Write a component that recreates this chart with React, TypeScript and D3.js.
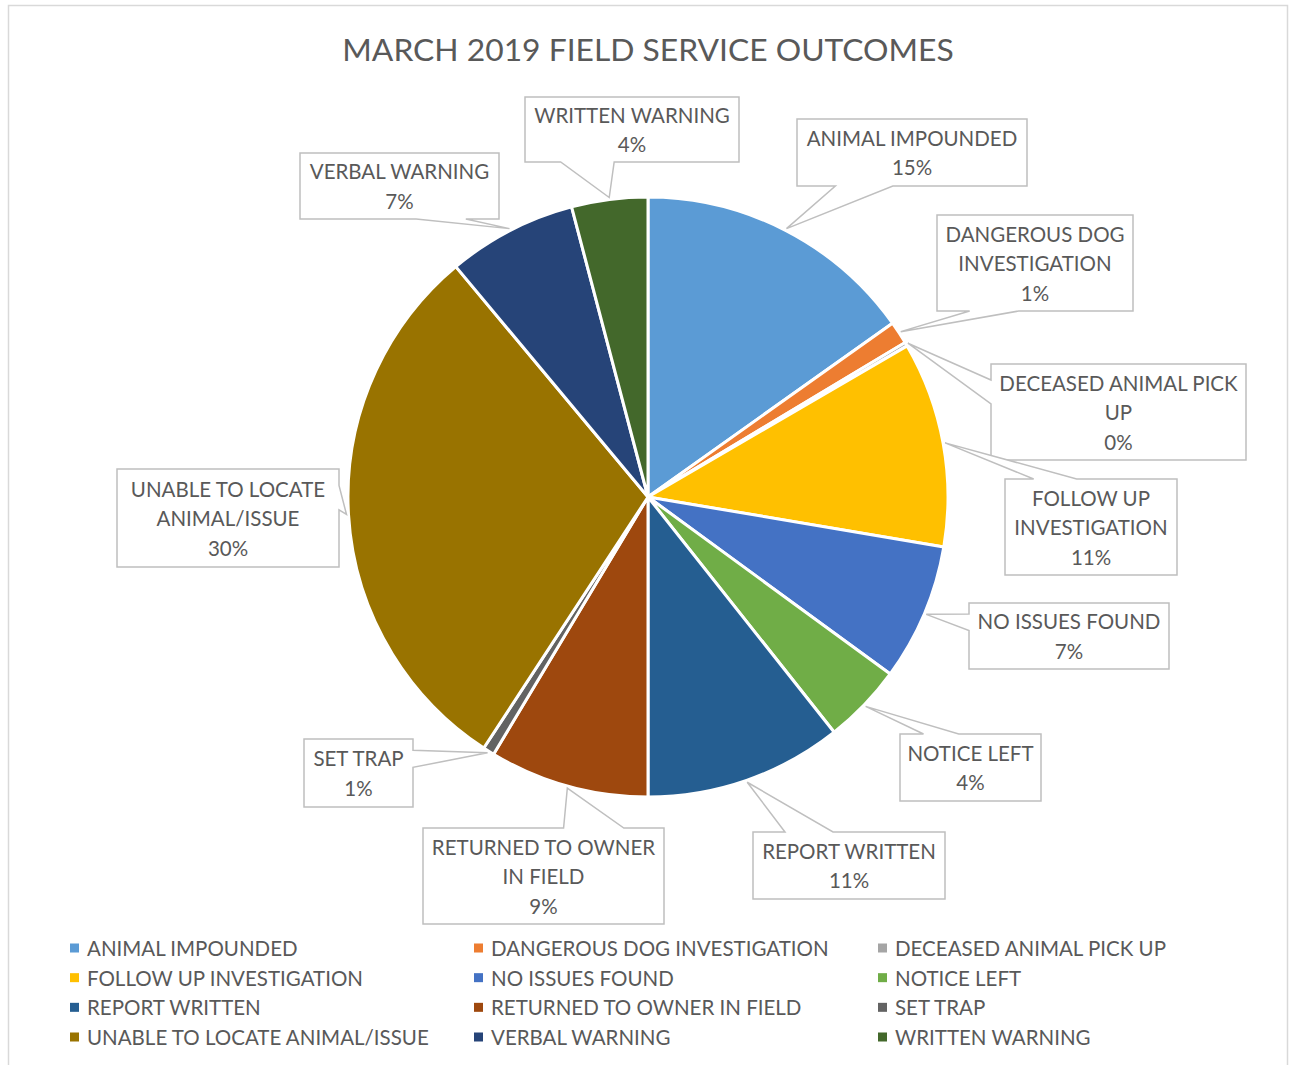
import React from 'react'
import * as d3 from 'd3'

// March 2019 outcomes, in legend / clockwise order
const categories = [
    'ANIMAL IMPOUNDED',
    'DANGEROUS DOG INVESTIGATION',
    'DECEASED ANIMAL PICK UP',
    'FOLLOW UP INVESTIGATION',
    'NO ISSUES FOUND',
    'NOTICE LEFT',
    'REPORT WRITTEN',
    'RETURNED TO OWNER IN FIELD',
    'SET TRAP',
    'UNABLE TO LOCATE ANIMAL/ISSUE',
    'VERBAL WARNING',
    'WRITTEN WARNING',
]
const counts = [74, 6, 1, 54, 36, 21, 52, 42, 3, 145, 34, 20]
const colors = [
    '#5B9BD5', '#ED7D31', '#A5A5A5', '#FFC000', '#4472C4', '#70AD47',
    '#255E91', '#9E480E', '#636363', '#997300', '#264478', '#43682B',
]
const title = 'MARCH 2019 FIELD SERVICE OUTCOMES'

// callout boxes placed by hand, like the original: [left, top, width, height]
const calloutBoxes = [
    [797, 119, 230, 67],
    [937, 215, 196, 96],
    [991, 364, 255, 96],
    [1005, 479, 172, 96],
    [969, 603, 200, 66],
    [900, 734, 141, 67],
    [753, 832, 192, 67],
    [423, 828, 241, 96],
    [304, 739, 109, 68],
    [117, 469, 222, 98],
    [300, 153, 199, 66],
    [525, 97, 214, 65],
]

const W = 1293
const H = 1065
const cx = 648
const cy = 497
const radius = 300
const FONT = 'Lato, "Open Sans", sans-serif'
const TEXT = '#595959'
const LABEL_SIZE = 20.5

let ctx = null
function textWidth(s) {
    if (!ctx) ctx = document.createElement('canvas').getContext('2d')
    ctx.font = LABEL_SIZE + 'px ' + FONT
    return ctx.measureText(s).width
}

function wrap(label, maxW) {
    const words = label.split(' ')
    const lines = []
    let cur = ''
    words.forEach((w) => {
        const t = cur ? cur + ' ' + w : w
        if (cur && textWidth(t) > maxW) {
            lines.push(cur)
            cur = w
        } else cur = t
    })
    if (cur) lines.push(cur)
    return lines
}

// Office "wedgeRectCallout" outline
function calloutPath(x, y, w, h, tx, ty) {
    const hc = x + w / 2
    const vc = y + h / 2
    const dx = tx - hc
    const dy = ty - vc
    const dq = (dx * h) / w
    if (Math.abs(dy) > Math.abs(dq)) {
        const xa = x + (w * (dx > 0 ? 7 : 2)) / 12
        const xb = x + (w * (dx > 0 ? 10 : 5)) / 12
        if (dy < 0)
            return `M${x},${y}L${xa},${y}L${tx},${ty}L${xb},${y}L${x + w},${y}L${x + w},${y + h}L${x},${y + h}Z`
        return `M${x},${y}L${x + w},${y}L${x + w},${y + h}L${xb},${y + h}L${tx},${ty}L${xa},${y + h}L${x},${y + h}Z`
    }
    const ya = y + (h * (dy > 0 ? 7 : 2)) / 12
    const yb = y + (h * (dy > 0 ? 10 : 5)) / 12
    if (dx < 0)
        return `M${x},${y}L${x + w},${y}L${x + w},${y + h}L${x},${y + h}L${x},${yb}L${tx},${ty}L${x},${ya}Z`
    return `M${x},${y}L${x + w},${y}L${x + w},${ya}L${tx},${ty}L${x + w},${yb}L${x + w},${y + h}L${x},${y + h}Z`
}

export default function App() {
    const total = d3.sum(counts)
    const pie = d3.pie().sort(null).value((d) => d)
    const arcs = pie(counts)
    const arc = d3.arc().innerRadius(0).outerRadius(radius)
    const tipArc = d3.arc().innerRadius(radius + 2).outerRadius(radius + 2)
    const pct = (v) => Math.round((v / total) * 100) + '%'

    const legendX = d3.scalePoint().domain([0, 1, 2]).range([70, 878])
    const legendY = d3.scalePoint().domain([0, 1, 2, 3]).range([948, 1037])

    return (
        <svg
            width={W}
            height={H}
            style={{ position: 'absolute', left: 0, top: 0, background: '#fff' }}
            fontFamily={FONT}
        >
            <rect x={8.5} y={5.5} width={1279} height={1070} fill="#fff" stroke="#D9D9D9" strokeWidth={1.5} />
            <text x={648} y={49} textAnchor="middle" dominantBaseline="central" fontSize={31.8} fill={TEXT}>
                {title}
            </text>

            <g transform={`translate(${cx},${cy})`}>
                {arcs.map((a, i) => (
                    <path key={i} d={arc(a)} fill={colors[i]} stroke="#fff" strokeWidth={3} strokeLinejoin="round" />
                ))}
            </g>

            {arcs.map((a, i) => {
                const [x, y, w, h] = calloutBoxes[i]
                const [px, py] = tipArc.centroid(a)
                const lines = wrap(categories[i], w - 2).concat([pct(counts[i])])
                const mid = y + h / 2
                return (
                    <g key={i}>
                        <path
                            d={calloutPath(x, y, w, h, cx + px, cy + py)}
                            fill="#fff"
                            stroke="#BFBFBF"
                            strokeWidth={1.5}
                        />
                        {lines.map((t, j) => (
                            <text
                                key={j}
                                x={x + w / 2}
                                y={mid + (j - (lines.length - 1) / 2) * 29.5}
                                textAnchor="middle"
                                dominantBaseline="central"
                                fontSize={LABEL_SIZE}
                                fill={TEXT}
                            >
                                {t}
                            </text>
                        ))}
                    </g>
                )
            })}

            {categories.map((c, i) => {
                const lx = legendX(i % 3)
                const ly = legendY(Math.floor(i / 3))
                return (
                    <g key={c}>
                        <rect x={lx} y={ly - 4.5} width={9} height={9} fill={colors[i]} />
                        <text x={lx + 17} y={ly} dominantBaseline="central" fontSize={LABEL_SIZE} fill={TEXT}>
                            {c}
                        </text>
                    </g>
                )
            })}
        </svg>
    )
}
